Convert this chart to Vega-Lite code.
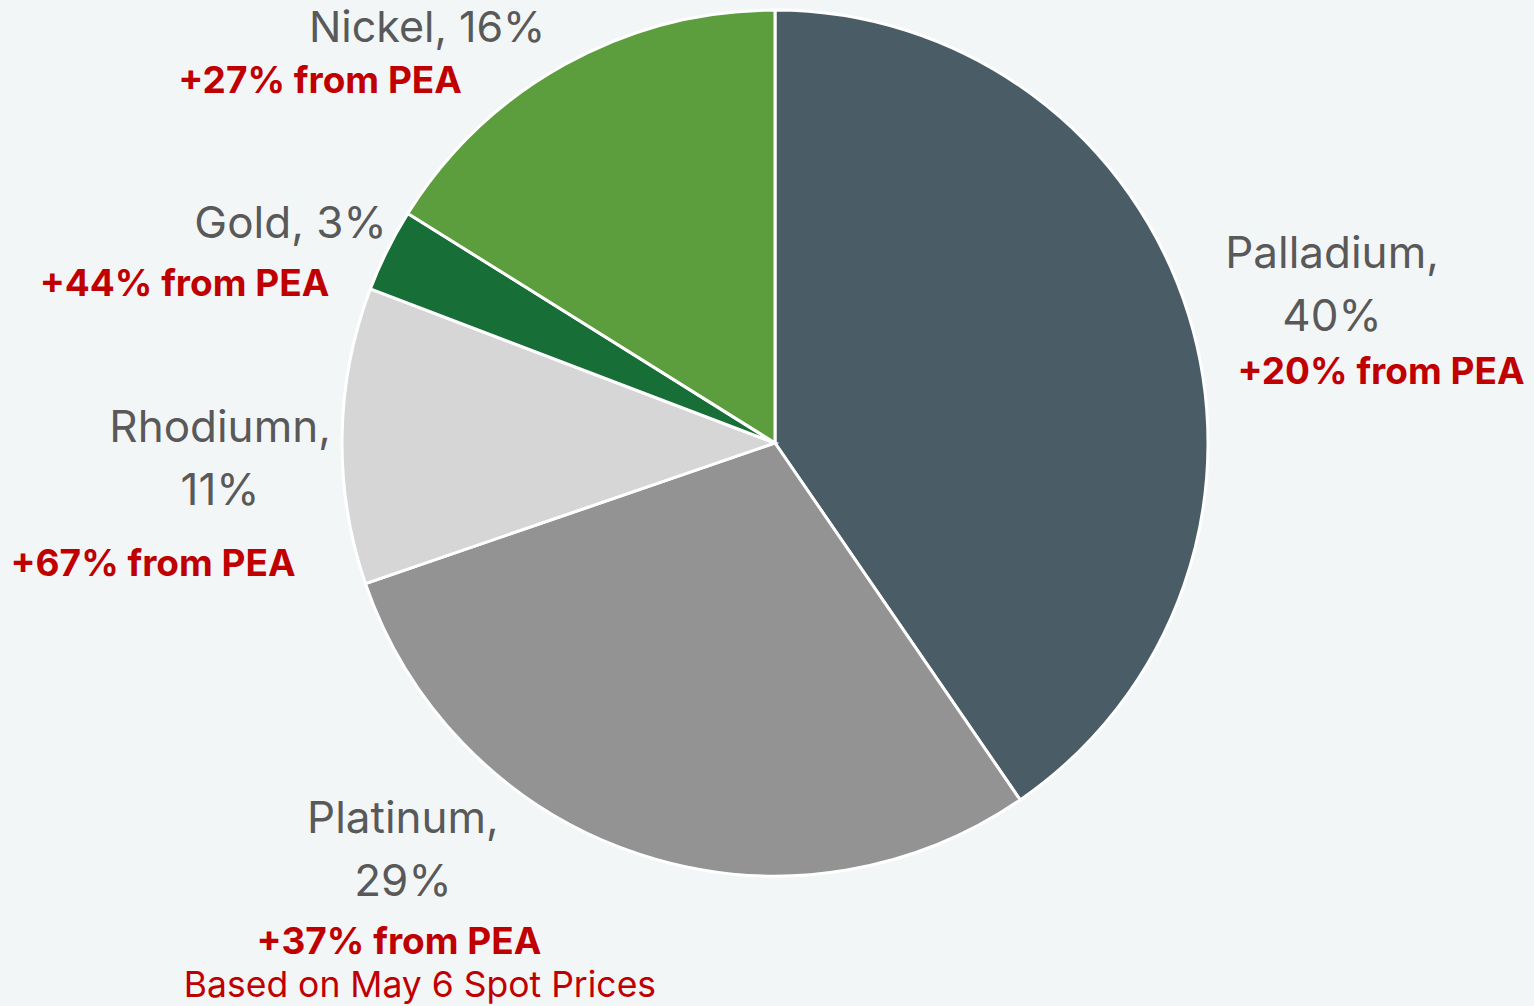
{
  "$schema": "https://vega.github.io/schema/vega-lite/v6.json",
  "autosize": {"type": "none"},
  "width": 1550,
  "height": 886,
  "padding": {"left": 0, "top": 0, "right": 0, "bottom": 120},
  "background": "#F3F6F7",
  "view": {"stroke": null},
  "config": {"font": "Inter"},
  "data": {
    "values": [
      {"metal": "Palladium", "value": 40.4, "rank": 1, "label": "Palladium,\n40%", "change": "+20% from PEA"},
      {"metal": "Platinum", "value": 29.3, "rank": 2, "label": "Platinum,\n29%", "change": "+37% from PEA"},
      {"metal": "Rhodiumn", "value": 11.05, "rank": 3, "label": "Rhodiumn,\n11%", "change": "+67% from PEA"},
      {"metal": "Gold", "value": 3.1, "rank": 4, "label": "Gold, 3%", "change": "+44% from PEA"},
      {"metal": "Nickel", "value": 16.1, "rank": 5, "label": "Nickel, 16%", "change": "+27% from PEA"}
    ]
  },
  "transform": [
    {"stack": "value", "groupby": [], "sort": [{"field": "rank", "order": "ascending"}], "as": ["v0", "v1"]},
    {"calculate": "(datum.v0 + datum.v1) / 2", "as": "mid"}
  ],
  "layer": [
    {
      "mark": {"type": "arc", "outerRadius": 433, "stroke": "#FFFFFF", "strokeWidth": 3},
      "encoding": {
        "theta": {"field": "v0", "type": "quantitative", "scale": {"domain": [0, 99.95]}},
        "theta2": {"field": "v1"},
        "color": {
          "field": "metal", "type": "nominal", "legend": null,
          "scale": {
            "domain": ["Palladium", "Platinum", "Rhodiumn", "Gold", "Nickel"],
            "range": ["#4A5D67", "#939393", "#D6D6D6", "#176E36", "#5C9E3E"]
          }
        }
      }
    },
    {
      "transform": [{"filter": "datum.metal === 'Palladium'"}],
      "mark": {"type": "text", "radius": 578, "dx": 5, "dy": -17, "fontSize": 44, "color": "#595959", "lineBreak": "\n", "lineHeight": 63},
      "encoding": {"theta": {"field": "mid", "type": "quantitative", "stack": null}, "text": {"field": "label"}}
    },
    {
      "transform": [{"filter": "datum.metal === 'Palladium'"}],
      "mark": {"type": "text", "radius": 578, "dx": 54, "dy": 101, "fontSize": 37, "fontWeight": "bold", "color": "#C00000"},
      "encoding": {"theta": {"field": "mid", "type": "quantitative", "stack": null}, "text": {"field": "change"}}
    },
    {
      "transform": [{"filter": "datum.metal === 'Platinum'"}],
      "mark": {"type": "text", "radius": 504, "dx": -214, "dy": -102, "fontSize": 44, "color": "#595959", "lineBreak": "\n", "lineHeight": 63},
      "encoding": {"theta": {"field": "mid", "type": "quantitative", "stack": null}, "text": {"field": "label"}}
    },
    {
      "transform": [{"filter": "datum.metal === 'Platinum'"}],
      "mark": {"type": "text", "radius": 504, "dx": -218, "dy": 21, "fontSize": 37, "fontWeight": "bold", "color": "#C00000"},
      "encoding": {"theta": {"field": "mid", "type": "quantitative", "stack": null}, "text": {"field": "change"}}
    },
    {
      "transform": [{"filter": "datum.metal === 'Platinum'"}],
      "mark": {"type": "text", "radius": 504, "dx": -197, "dy": 64, "fontSize": 35.5, "color": "#C00000"},
      "encoding": {"theta": {"field": "mid", "type": "quantitative", "stack": null}, "text": {"value": "Based on May 6 Spot Prices"}}
    },
    {
      "transform": [{"filter": "datum.metal === 'Rhodiumn'"}],
      "mark": {"type": "text", "radius": 555, "dx": 0, "dy": -5, "fontSize": 44, "color": "#595959", "lineBreak": "\n", "lineHeight": 63},
      "encoding": {"theta": {"field": "mid", "type": "quantitative", "stack": null}, "text": {"field": "label"}}
    },
    {
      "transform": [{"filter": "datum.metal === 'Rhodiumn'"}],
      "mark": {"type": "text", "radius": 555, "dx": -67, "dy": 131, "fontSize": 37, "fontWeight": "bold", "color": "#C00000"},
      "encoding": {"theta": {"field": "mid", "type": "quantitative", "stack": null}, "text": {"field": "change"}}
    },
    {
      "transform": [{"filter": "datum.metal === 'Gold'"}],
      "mark": {"type": "text", "radius": 531, "dx": -9, "dy": 18, "fontSize": 44, "color": "#595959"},
      "encoding": {"theta": {"field": "mid", "type": "quantitative", "stack": null}, "text": {"field": "label"}}
    },
    {
      "transform": [{"filter": "datum.metal === 'Gold'"}],
      "mark": {"type": "text", "radius": 531, "dx": -115, "dy": 78, "fontSize": 37, "fontWeight": "bold", "color": "#C00000"},
      "encoding": {"theta": {"field": "mid", "type": "quantitative", "stack": null}, "text": {"field": "change"}}
    },
    {
      "transform": [{"filter": "datum.metal === 'Nickel'"}],
      "mark": {"type": "text", "radius": 532, "dx": -90, "dy": 51, "fontSize": 43, "color": "#595959"},
      "encoding": {"theta": {"field": "mid", "type": "quantitative", "stack": null}, "text": {"field": "label"}}
    },
    {
      "transform": [{"filter": "datum.metal === 'Nickel'"}],
      "mark": {"type": "text", "radius": 532, "dx": -197, "dy": 104, "fontSize": 37, "fontWeight": "bold", "color": "#C00000"},
      "encoding": {"theta": {"field": "mid", "type": "quantitative", "stack": null}, "text": {"field": "change"}}
    }
  ]
}
